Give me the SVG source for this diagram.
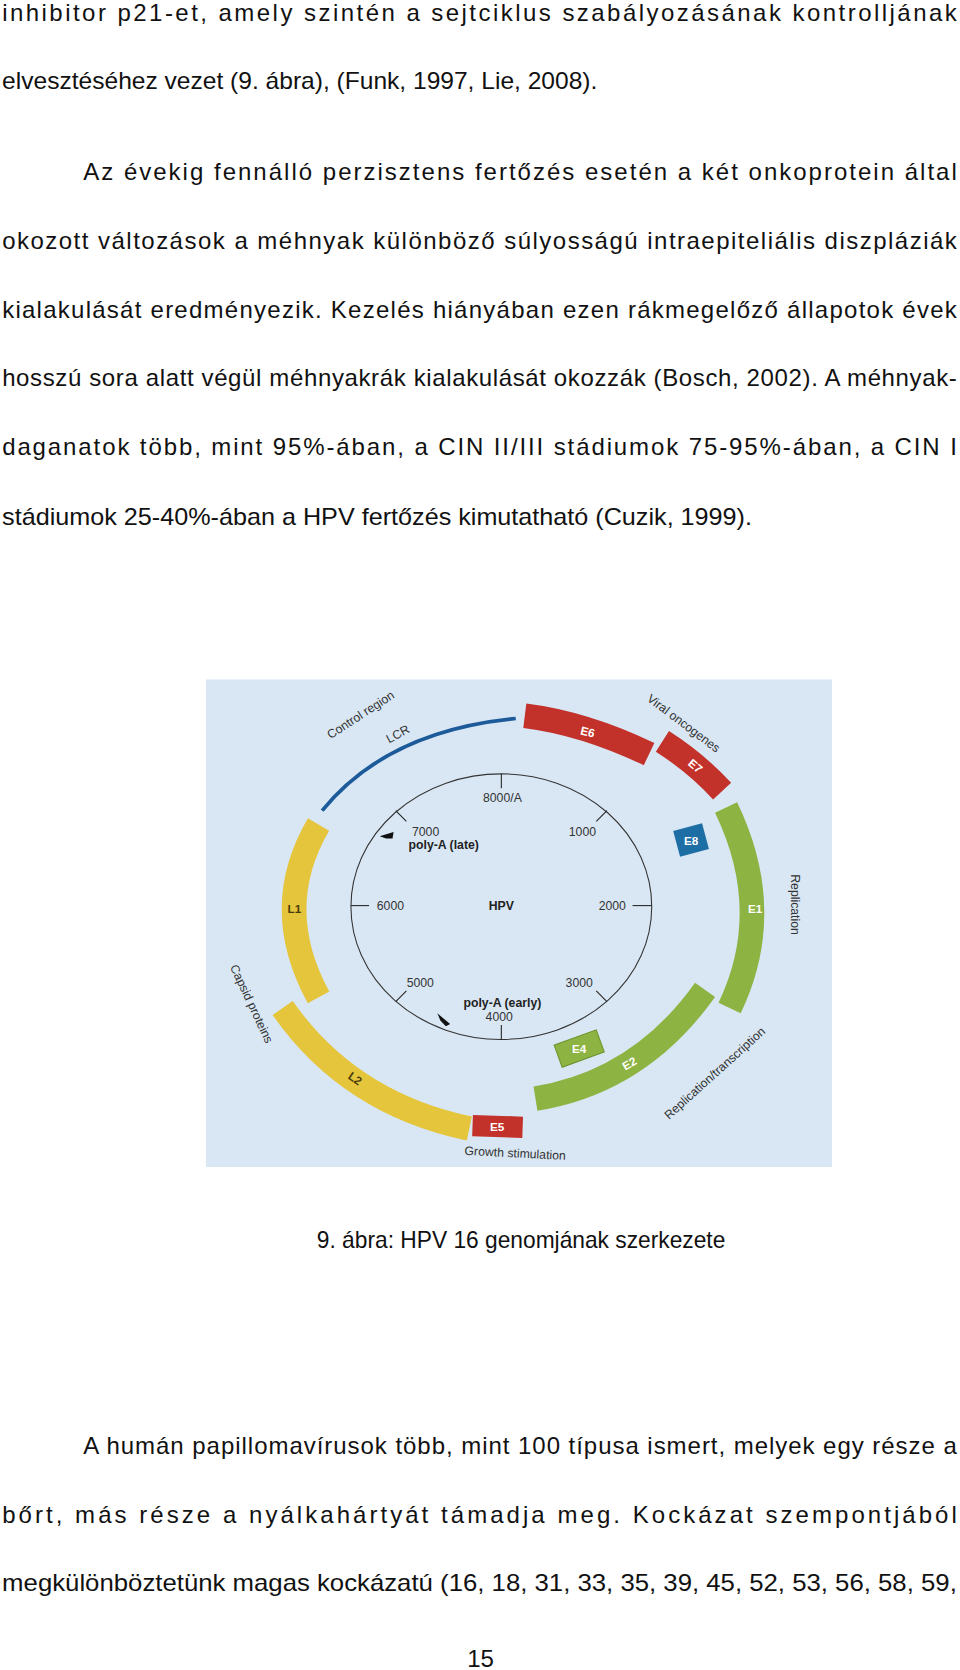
<svg xmlns="http://www.w3.org/2000/svg" width="960" height="1670" viewBox="0 0 960 1670">
<style>
.t{font-family:"Liberation Sans",Arial,sans-serif;font-size:22.5px;fill:#111}
.n{font-family:"Liberation Sans",Arial,sans-serif;font-size:11.5px;fill:#333;text-anchor:middle}
.b{font-family:"Liberation Sans",Arial,sans-serif;font-size:11.5px;font-weight:bold;fill:#222;text-anchor:middle}
.w{font-family:"Liberation Sans",Arial,sans-serif;font-size:11px;font-weight:bold;fill:#fff;text-anchor:middle}
.d{font-family:"Liberation Sans",Arial,sans-serif;font-size:11px;font-weight:bold;fill:#4a3c08;text-anchor:middle}
.o{font-family:"Liberation Sans",Arial,sans-serif;font-size:11.5px;fill:#333;text-anchor:middle}
.band{fill:none;stroke-width:23}
.tk{stroke:#222;stroke-width:1}
</style>
<rect width="960" height="1670" fill="#fff"/>
<g transform="scale(1.066667)">
<g id="text">
<text class="t" x="2" y="20" textLength="895" lengthAdjust="spacing">inhibitor p21-et, amely szintén a sejtciklus szabályozásának kontrolljának</text>
<text class="t" x="2" y="83" textLength="558" lengthAdjust="spacingAndGlyphs">elvesztéséhez vezet (9. ábra), (Funk, 1997, Lie, 2008).</text>
<text class="t" x="78" y="169" textLength="819" lengthAdjust="spacing">Az évekig fennálló perzisztens fertőzés esetén a két onkoprotein által</text>
<text class="t" x="2" y="233" textLength="895" lengthAdjust="spacing">okozott változások a méhnyak különböző súlyosságú intraepiteliális diszpláziák</text>
<text class="t" x="2" y="298" textLength="895" lengthAdjust="spacing">kialakulását eredményezik. Kezelés hiányában ezen rákmegelőző állapotok évek</text>
<text class="t" x="2" y="362" textLength="895" lengthAdjust="spacing">hosszú sora alatt végül méhnyakrák kialakulását okozzák (Bosch, 2002). A méhnyak-</text>
<text class="t" x="2" y="427" textLength="895" lengthAdjust="spacing">daganatok több, mint 95%-ában, a CIN II/III stádiumok 75-95%-ában, a CIN I</text>
<text class="t" x="2" y="492" textLength="703" lengthAdjust="spacingAndGlyphs">stádiumok 25-40%-ában a HPV fertőzés kimutatható (Cuzik, 1999).</text>
<text class="t" x="297" y="1170" textLength="383" lengthAdjust="spacingAndGlyphs">9. ábra: HPV 16 genomjának szerkezete</text>
<text class="t" x="78" y="1363" textLength="819" lengthAdjust="spacing">A humán papillomavírusok több, mint 100 típusa ismert, melyek egy része a</text>
<text class="t" x="2" y="1428" textLength="895" lengthAdjust="spacing">bőrt, más része a nyálkahártyát támadja meg. Kockázat szempontjából</text>
<text class="t" x="2" y="1492" textLength="895" lengthAdjust="spacingAndGlyphs">megkülönböztetünk magas kockázatú (16, 18, 31, 33, 35, 39, 45, 52, 53, 56, 58, 59,</text>
<text class="t" x="438" y="1563">15</text>
</g>
<g id="figure">
<rect x="193" y="637" width="587" height="457" fill="#d9e7f4"/>
<g id="inner-map">
<ellipse cx="470" cy="850" rx="141" ry="124.5" fill="none" stroke="#333" stroke-width="1"/>
<line class="tk" x1="470" y1="725.5" x2="470" y2="739"/>
<line class="tk" x1="470" y1="961" x2="470" y2="974.5"/>
<line class="tk" x1="329" y1="849" x2="346" y2="849"/>
<line class="tk" x1="593" y1="849" x2="611" y2="849"/>
<line class="tk" x1="371" y1="760" x2="381" y2="770"/>
<line class="tk" x1="569" y1="760" x2="559" y2="770"/>
<line class="tk" x1="371" y1="939" x2="381" y2="929"/>
<line class="tk" x1="569" y1="939" x2="559" y2="929"/>
<text class="n" x="471" y="752">8000/A</text>
<text class="n" x="399" y="784">7000</text>
<text class="b" x="416" y="796">poly-A (late)</text>
<text class="n" x="546" y="784">1000</text>
<text class="n" x="366" y="853">6000</text>
<text class="b" x="470" y="853">HPV</text>
<text class="n" x="574" y="853">2000</text>
<text class="n" x="394" y="925">5000</text>
<text class="n" x="543" y="925">3000</text>
<text class="b" x="471" y="944">poly-A (early)</text>
<text class="n" x="468" y="957">4000</text>
<polygon points="356,784 369,780 368,786 362,786" fill="#111"/>
<polygon points="410,950 422,960 418,962 413,957" fill="#111"/>
</g>
<g id="LCR"><path d="M302,760 Q363,685 483.5,673.6" fill="none" stroke="#1d5a99" stroke-width="3.5"/></g>
<g id="E6"><path class="band" d="M492,671 Q548,678 608.5,707" stroke="#c3322a"/><text class="w" x="551" y="690" transform="rotate(14 551 686)">E6</text></g>
<g id="E7"><path class="band" d="M621,695 Q652.4,715 677,741.7" stroke="#c3322a"/><text class="w" x="652" y="722" transform="rotate(40 652 718)">E7</text></g>
<g id="E8"><rect x="634" y="775" width="28" height="25" fill="#1e6ea6" transform="rotate(-15 648 788)"/><text class="w" x="648" y="792">E8</text></g>
<g id="E1"><path class="band" d="M680.7,757 Q727.6,854.2 684,945" stroke="#8db442" stroke-width="24"/><text class="w" x="708" y="856">E1</text></g>
<g id="E2"><path class="band" d="M661,928 Q599.7,1014.2 502,1030" stroke="#8db442"/><text class="w" x="590" y="1001" transform="rotate(-30 590 997)">E2</text></g>
<g id="E4"><rect x="522" y="972" width="42" height="22" fill="#8db442" stroke="#6e9430" stroke-width="1" transform="rotate(-20 543 983)"/><text class="w" x="543" y="987">E4</text></g>
<g id="E5"><rect x="443" y="1046" width="47" height="20" fill="#c3322a" transform="rotate(2 466 1056)"/><text class="w" x="466" y="1060">E5</text></g>
<g id="L1"><path class="band" d="M298.6,773 Q252.8,851.2 298.6,935" stroke="#e5c53c" stroke-width="24"/><text class="d" x="276" y="856">L1</text></g>
<g id="L2"><path class="band" d="M265,945 Q327.5,1034.5 440,1058" stroke="#e5c53c" stroke-width="24"/><text class="d" x="333" y="1015" transform="rotate(35 333 1011)">L2</text></g>
<g id="labels">
<text class="o" x="338" y="674" transform="rotate(-33 338 670)">Control region</text>
<text class="o" x="373" y="692" transform="rotate(-28 373 688)">LCR</text>
<text class="o" x="641" y="682" transform="rotate(37 641 678)">Viral oncogenes</text>
<text class="o" x="746" y="852" transform="rotate(90 746 848)">Replication</text>
<text class="o" x="236" y="945" transform="rotate(65 236 941)">Capsid proteins</text>
<text class="o" x="670" y="1010" transform="rotate(-42 670 1006)">Replication/transcription</text>
<text class="o" x="483" y="1085" transform="rotate(3 483 1081)">Growth stimulation</text>
</g>
</g>
</g>
</svg>
